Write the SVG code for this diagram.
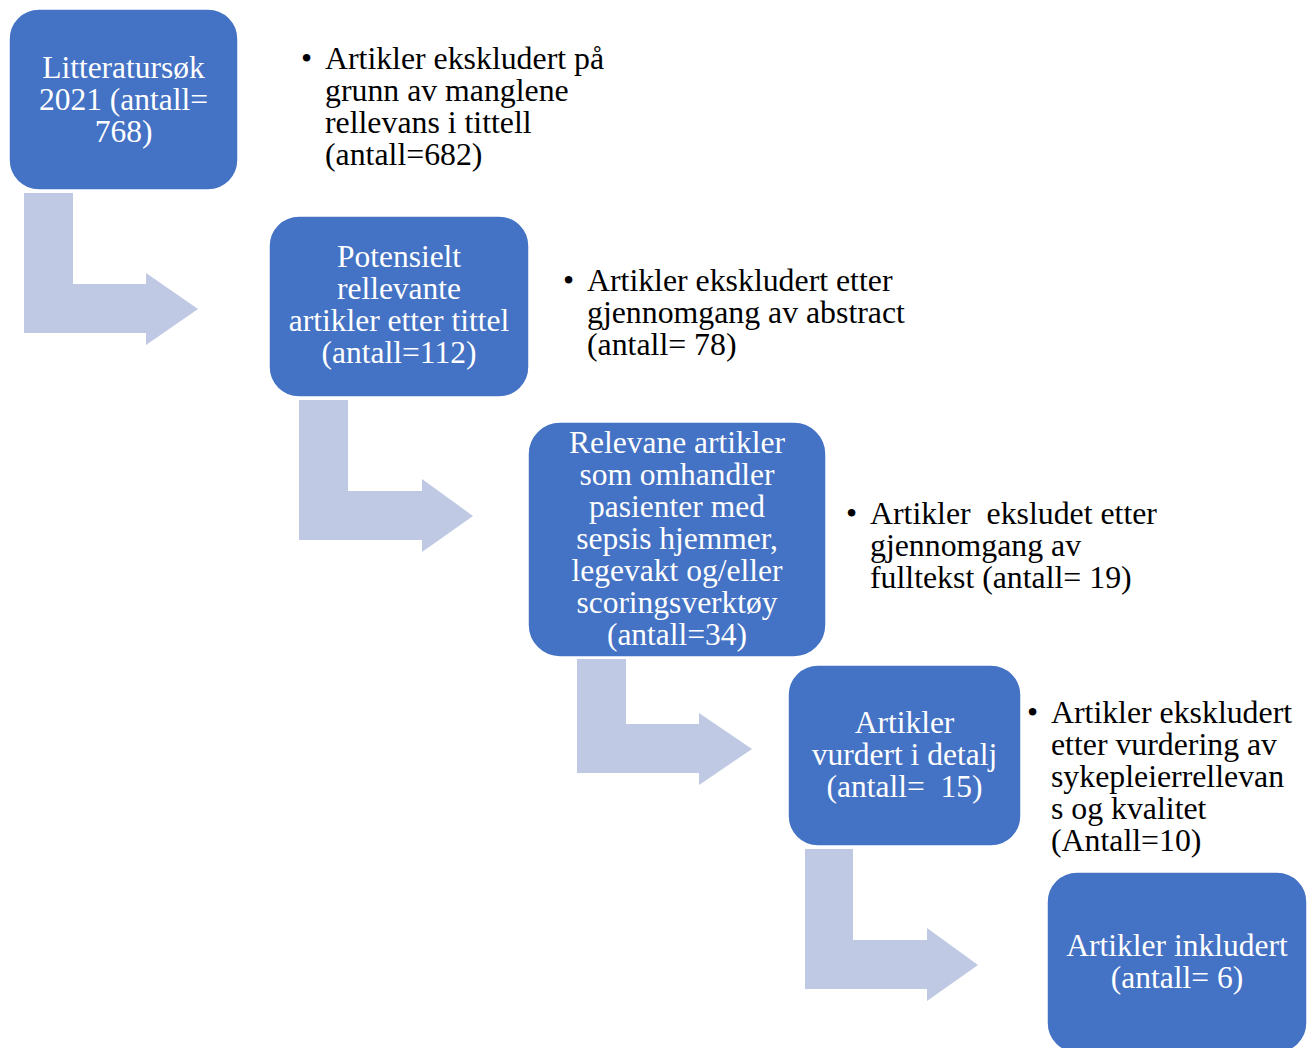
<svg xmlns="http://www.w3.org/2000/svg" width="1314" height="1048" viewBox="0 0 1314 1048">
<style>
.box{fill:#4472C4;stroke:#ffffff;stroke-width:1.5}
.bt{font-family:"Liberation Serif","Times New Roman",serif;font-size:31.5px;fill:#ffffff;text-anchor:middle;white-space:pre}
.rt{font-family:"Liberation Serif","Times New Roman",serif;font-size:31.8px;fill:#000000;white-space:pre}
.arr{fill:#BFC9E3}
</style>
<rect width="1314" height="1048" fill="#ffffff"/>
<g id="connectors">
<path class="arr" d="M24,193 H73 V284 H146 V273 L198,309 L146,345 V333 H24 Z"/>
<path class="arr" d="M299,400 H348 V491 H422 V479 L473,516 L422,552 V540 H299 Z"/>
<path class="arr" d="M577,659 H626 V724 H699 V713 L752,749 L699,785 V773 H577 Z"/>
<path class="arr" d="M805,849 H853 V940 H927 V928 L978,965 L927,1001 V989 H805 Z"/>
</g>
<g id="node1">
<rect class="box" x="9" y="9" width="229" height="181" rx="30"/>
<text class="bt" x="123.5" y="78">Litteratursøk</text>
<text class="bt" x="123.5" y="110">2021 (antall=</text>
<text class="bt" x="123.5" y="142">768)</text>
</g>
<g id="note1">
<text class="rt" x="301" y="69">•</text>
<text class="rt" x="325" y="69">Artikler ekskludert på</text>
<text class="rt" x="325" y="101">grunn av manglene</text>
<text class="rt" x="325" y="133">rellevans i tittell</text>
<text class="rt" x="325" y="165">(antall=682)</text>
</g>
<g id="node2">
<rect class="box" x="269" y="216" width="260" height="181" rx="30"/>
<text class="bt" x="399" y="267">Potensielt</text>
<text class="bt" x="399" y="299">rellevante</text>
<text class="bt" x="399" y="331">artikler etter tittel</text>
<text class="bt" x="399" y="363">(antall=112)</text>
</g>
<g id="note2">
<text class="rt" x="563" y="291">•</text>
<text class="rt" x="587" y="291">Artikler ekskludert etter</text>
<text class="rt" x="587" y="323">gjennomgang av abstract</text>
<text class="rt" x="587" y="355">(antall= 78)</text>
</g>
<g id="node3">
<rect class="box" x="528" y="422" width="298" height="235" rx="32"/>
<text class="bt" x="677" y="453">Relevane artikler</text>
<text class="bt" x="677" y="485">som omhandler</text>
<text class="bt" x="677" y="517">pasienter med</text>
<text class="bt" x="677" y="549">sepsis hjemmer,</text>
<text class="bt" x="677" y="581">legevakt og/eller</text>
<text class="bt" x="677" y="613">scoringsverktøy</text>
<text class="bt" x="677" y="645">(antall=34)</text>
</g>
<g id="note3">
<text class="rt" x="846" y="524">•</text>
<text class="rt" x="870" y="524">Artikler  eksludet etter</text>
<text class="rt" x="870" y="556">gjennomgang av</text>
<text class="rt" x="870" y="588">fulltekst (antall= 19)</text>
</g>
<g id="node4">
<rect class="box" x="788" y="665" width="233" height="181" rx="30"/>
<text class="bt" x="904.5" y="733">Artikler</text>
<text class="bt" x="904.5" y="765">vurdert i detalj</text>
<text class="bt" x="904.5" y="797">(antall=  15)</text>
</g>
<g id="note4">
<text class="rt" x="1027" y="723">•</text>
<text class="rt" x="1051" y="723">Artikler ekskludert</text>
<text class="rt" x="1051" y="755">etter vurdering av</text>
<text class="rt" x="1051" y="787">sykepleierrellevan</text>
<text class="rt" x="1051" y="819">s og kvalitet</text>
<text class="rt" x="1051" y="851">(Antall=10)</text>
</g>
<g id="node5">
<rect class="box" x="1047" y="872" width="260" height="181" rx="30"/>
<text class="bt" x="1177" y="956">Artikler inkludert</text>
<text class="bt" x="1177" y="988">(antall= 6)</text>
</g>
</svg>
